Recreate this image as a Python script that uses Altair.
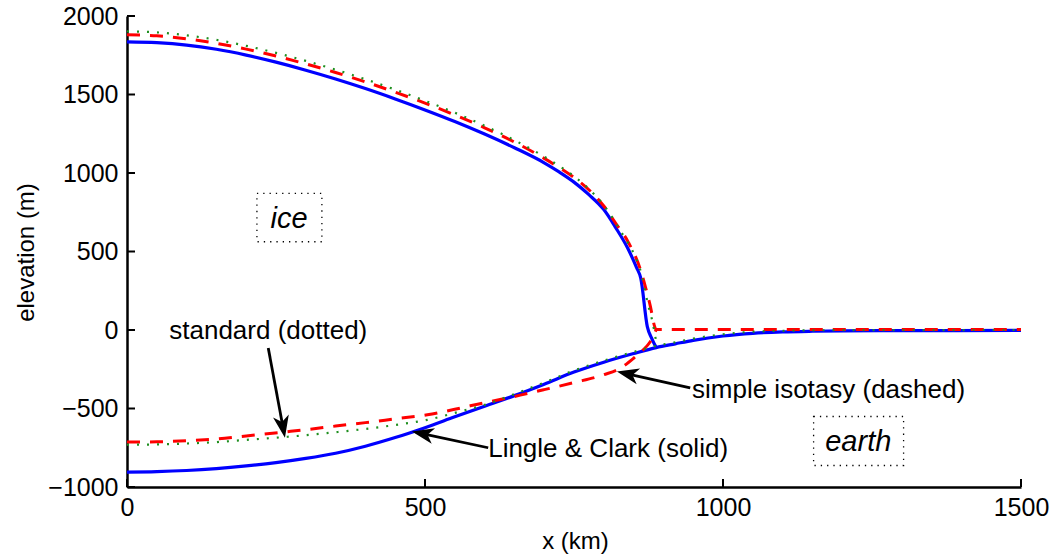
import math
import altair as alt
import pandas as pd

# ---------------- data ----------------
# Lingle & Clark (solid, blue)
lc_surf_x = [0, 50, 100, 150, 200, 250, 300, 350, 400, 450, 500, 550, 600, 650, 700, 725, 750, 775, 800, 820, 840, 855, 862, 873, 880, 888]
lc_surf_y = [1835, 1830, 1815, 1788, 1751, 1706, 1655, 1599, 1538, 1472, 1402, 1328, 1248, 1161, 1065, 1007, 942, 862, 767, 652, 522, 397, 330, 22, -50, -112]
lc_bed_x = [0, 50, 100, 150, 200, 250, 300, 350, 400, 450, 500, 550, 600, 650, 700, 750, 800, 850, 888, 920, 950, 1000, 1050, 1100, 1150, 1200, 1300, 1500]
lc_bed_y = [-905, -902, -895, -883, -866, -845, -818, -785, -740, -685, -622, -553, -485, -418, -345, -268, -205, -150, -112, -88, -66, -38, -21, -12, -8, -6, -4, -3]

# simple isostasy (dashed, red)
si_surf_x = [0, 50, 100, 150, 200, 250, 300, 350, 400, 450, 500, 550, 600, 650, 700, 725, 754, 780, 800, 820, 841, 861, 877, 888, 1000, 1500]
si_surf_y = [1880, 1874, 1855, 1826, 1789, 1745, 1695, 1640, 1580, 1515, 1445, 1370, 1288, 1197, 1093, 1035, 960, 875, 790, 680, 560, 390, 170, 3, 3, 3]
si_bed_x = [0, 50, 100, 150, 200, 263, 300, 350, 400, 450, 504, 550, 576, 620, 660, 700, 750, 800, 827, 850, 865, 877, 888]
si_bed_y = [-714, -712, -705, -694, -675, -650, -635, -612, -590, -566, -540, -505, -483, -448, -415, -380, -335, -285, -245, -180, -130, -80, 3]

# standard (dotted, green)
std_surf_x = [0, 50, 100, 150, 200, 250, 300, 350, 400, 450, 500, 550, 600, 650, 700, 725, 754, 780, 800, 833, 850, 861, 875, 881, 889]
std_surf_y = [1902, 1896, 1877, 1848, 1810, 1765, 1714, 1658, 1597, 1531, 1460, 1384, 1301, 1209, 1104, 1045, 968, 880, 795, 600, 490, 385, 150, 64, -100]
std_bed_x = [0, 50, 100, 150, 200, 263, 300, 350, 400, 450, 504, 548, 604, 650, 700, 750, 800, 850, 889, 920, 950, 1000, 1050, 1100, 1200, 1500]
std_bed_y = [-731, -729, -723, -714, -700, -682, -670, -651, -630, -605, -572, -530, -472, -408, -335, -258, -195, -140, -100, -78, -55, -27, -11, -5, -1, 0]

# axis ticks
x_ticks = [0, 500, 1000, 1500]
y_ticks = [-1000, -500, 0, 500, 1000, 1500, 2000]

# annotations: labels, arrows (tail -> tip), boxed region labels
ann_text = ["standard (dotted)", "simple isotasy (dashed)", "Lingle & Clark (solid)"]
ann_tx = [237, 948, 606]
ann_ty = [-6, -381, -758]
ann_align = ["center", "left", "left"]

arr_x0 = [237, 945, 606]
arr_y0 = [-114, -368, -750]
arr_x1 = [265, 822, 478]
arr_y1 = [-686, -265, -646]

box_text = ["ice", "earth"]
box_cx = [272, 1227]
box_cy = [707, -712]
box_x0 = [218, 1152]
box_x1 = [327, 1303]
box_y0 = [870, -551]
box_y1 = [562, -863]

# ---------------- layout ----------------
W, H = 894, 471
XMIN, XMAX, YMIN, YMAX = 0, 1500, -1000, 2000
FONT = "Liberation Sans"

xs = alt.Scale(domain=[XMIN, XMAX], nice=False, zero=False)
ys = alt.Scale(domain=[YMIN, YMAX], nice=False, zero=False)

X_AX = alt.Axis(
    values=x_ticks, ticks=False, grid=False, domainColor="black", domainWidth=2.5,
    labelFont=FONT, labelFontSize=25, labelColor="black", labelPadding=8,
    labelFlush=False, labelOverlap=False, format="d",
    title="x (km)", titleFont=FONT, titleFontSize=24, titleFontWeight="normal",
    titleColor="black", titleX=448, titleY=61, titleBaseline="alphabetic", titleAlign="center")
Y_AX = alt.Axis(
    values=y_ticks, ticks=False, grid=False, domainColor="black", domainWidth=2.5,
    labelFont=FONT, labelFontSize=25, labelColor="black", labelPadding=9,
    labelFlush=False, labelOverlap=False, format="d",
    title="elevation (m)", titleFont=FONT, titleFontSize=24, titleFontWeight="normal",
    titleColor="black", titleAngle=270, titleX=-94, titleY=236, titleBaseline="alphabetic",
    titleAlign="center")


def X(f):
    return alt.X(f, scale=xs, axis=X_AX)


def Y(f):
    return alt.Y(f, scale=ys, axis=Y_AX)


def df_from(parts):
    rows = []
    for name, xa, ya in parts:
        for i, (a, b) in enumerate(zip(xa, ya)):
            rows.append({"x": a, "y": b, "part": name, "i": i})
    return pd.DataFrame(rows)


def line_layer(df, color, width, dash=None):
    kw = dict(color=color, strokeWidth=width, clip=True, interpolate="monotone")
    if dash:
        kw["strokeDash"] = dash
    return alt.Chart(df).mark_line(**kw).encode(
        x=X("x:Q"), y=Y("y:Q"), detail="part:N", order="i:Q")


blue = line_layer(df_from([("s", lc_surf_x, lc_surf_y), ("b", lc_bed_x, lc_bed_y)]), "#0000ff", 3.2)
red = line_layer(df_from([("s", si_surf_x, si_surf_y), ("b", si_bed_x, si_bed_y)]), "#ff0000", 3, [13, 10])
green = line_layer(df_from([("s", std_surf_x, std_surf_y), ("b", std_bed_x, std_bed_y)]), "#1f8f1f", 2.2, [2, 8])

# inward tick marks
xt = alt.Chart(pd.DataFrame({"t": x_ticks})).mark_rule(color="black", strokeWidth=2).encode(
    x=X("t:Q"), y=alt.value(H), y2=alt.value(H - 8))
yt = alt.Chart(pd.DataFrame({"t": y_ticks})).mark_rule(color="black", strokeWidth=2).encode(
    y=Y("t:Q"), x=alt.value(0), x2=alt.value(8))

# arrows
kx = W / (XMAX - XMIN)
ky = H / (YMAX - YMIN)
arows = []
for x0, y0, x1, y1 in zip(arr_x0, arr_y0, arr_x1, arr_y1):
    dx = (x1 - x0) * kx
    dy = -(y1 - y0) * ky
    L = math.hypot(dx, dy)
    ang = math.degrees(math.atan2(dx, -dy)) % 360
    back = 14.0
    xe = x1 - (dx / L) * back / kx
    ye = y1 + (dy / L) * back / ky
    arows.append({"x0": x0, "y0": y0, "xe": xe, "ye": ye, "x1": x1, "y1": y1, "ang": ang})
arr_df = pd.DataFrame(arows)

shafts = alt.Chart(arr_df).mark_rule(color="black", strokeWidth=2.8).encode(
    x=X("x0:Q"), y=Y("y0:Q"), x2="xe:Q", y2="ye:Q")
HEAD = "M0,0L0.8,2.2L0,1.6L-0.8,2.2Z"
heads = alt.Chart(arr_df).mark_point(shape=HEAD, filled=True, size=400, color="black",
                                     opacity=1, strokeWidth=0).encode(
    x=X("x1:Q"), y=Y("y1:Q"), angle=alt.Angle("ang:Q", scale=None))

ann_df = pd.DataFrame({"t": ann_text, "x": ann_tx, "y": ann_ty, "a": ann_align})
txt_c = alt.Chart(ann_df[ann_df.a == "center"]).mark_text(
    font=FONT, fontSize=26, align="center", baseline="middle", color="black").encode(
    x=X("x:Q"), y=Y("y:Q"), text="t:N")
txt_l = alt.Chart(ann_df[ann_df.a == "left"]).mark_text(
    font=FONT, fontSize=26, align="left", baseline="middle", color="black").encode(
    x=X("x:Q"), y=Y("y:Q"), text="t:N")

box_df = pd.DataFrame({"t": box_text, "cx": box_cx, "cy": box_cy,
                       "x0": box_x0, "x1": box_x1, "y0": box_y0, "y1": box_y1})
boxes = alt.Chart(box_df).mark_rect(fillOpacity=0, stroke="black", strokeWidth=1.3,
                                    strokeDash=[1.3, 5]).encode(
    x=X("x0:Q"), x2="x1:Q", y=Y("y0:Q"), y2="y1:Q")
box_txt = alt.Chart(box_df).mark_text(font=FONT, fontSize=29, fontStyle="italic",
                                      align="center", baseline="middle", color="black").encode(
    x=X("cx:Q"), y=Y("cy:Q"), text="t:N")

chart = alt.layer(blue, red, green, xt, yt, shafts, heads, txt_c, txt_l, boxes, box_txt).properties(
    width=W, height=H,
    autosize=alt.AutoSizeParams(type="none"),
    padding={"left": 127, "top": 16, "right": 33, "bottom": 69},
    background="white",
).configure_view(strokeWidth=0)

chart.save("out.html", embed_options={"renderer": "svg", "actions": False})
